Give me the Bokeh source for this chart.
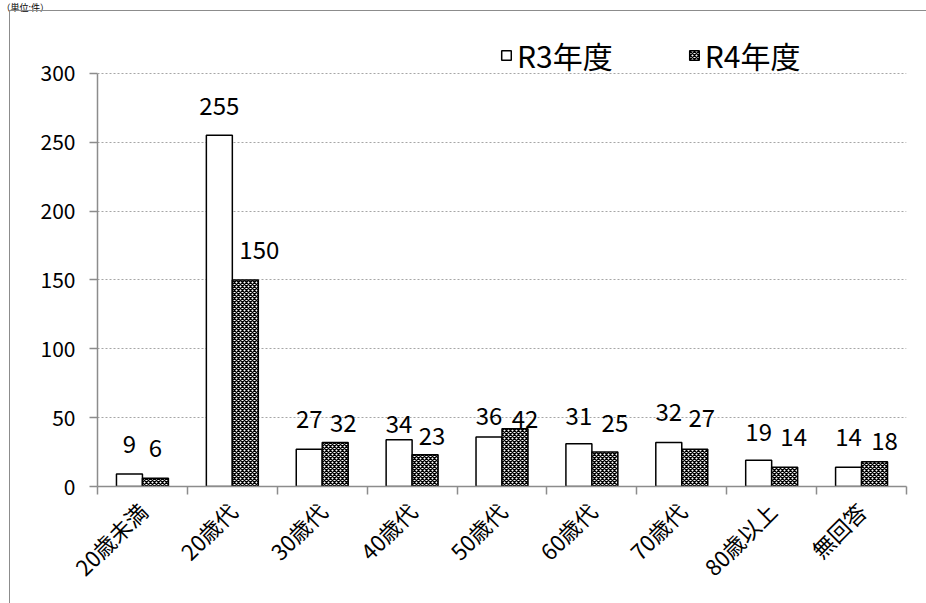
import math
from bokeh.plotting import figure
from bokeh.models import (ColumnDataSource, FixedTicker, Range1d, Legend, LegendItem,
                          InlineStyleSheet)
from bokeh.core.properties import value
from bokeh.embed import file_html
from bokeh.resources import INLINE

# Number of cases by age group, two fiscal years
categories = ["20歳未満", "20歳代", "30歳代", "40歳代", "50歳代", "60歳代", "70歳代", "80歳以上", "無回答"]
r3_values = [9, 255, 27, 34, 36, 31, 32, 19, 14]
r4_values = [6, 150, 32, 23, 42, 25, 27, 14, 18]
series_names = ["R3年度", "R4年度"]
y_ticks = [0, 50, 100, 150, 200, 250, 300]
unit_note = "（単位:件）"

# label nudges in screen pixels (dx right, dy up from bar top)
r3_label_dy = [30, 29, 30, 16, 21, 28, 30, 28, 30]
r4_label_dx = [0, 14, 8, 7, 10, 10, 7, 9, 10]
r4_label_dy = [30, 30, 19, 19, 10, 29, 31, 30, 21]

FONT = "Noto Sans CJK JP"
AXIS_GRAY = "#8c8c8c"
BAR_W = 0.289

n = len(categories)
centers = [i + 0.5 for i in range(n)]

src_r3 = ColumnDataSource(dict(
    x=[c - BAR_W / 2 for c in centers], top=r3_values,
    txt=[str(v) for v in r3_values],
    dx=[0] * n, dy=[-d for d in r3_label_dy],
))
src_r4 = ColumnDataSource(dict(
    x=[c + BAR_W / 2 for c in centers], top=r4_values,
    txt=[str(v) for v in r4_values],
    dx=r4_label_dx, dy=[-d for d in r4_label_dy],
))

# the title panel is one measured line box of the note's font (about 1.68 em)
NOTE_SIZE = 9
NOTE_STANDOFF = 0
scale = 413 / 300.0  # px per unit
frame_left, frame_bottom = 97, 486
frame_top = NOTE_SIZE * 1.68 + NOTE_STANDOFF

p = figure(width=926, height=603, output_backend="svg", toolbar_location=None,
           x_range=Range1d(0, n), y_range=Range1d(0, (frame_bottom - frame_top) / scale),
           min_border_left=frame_left, min_border_right=20, min_border_top=0,
           min_border_bottom=603 - frame_bottom)
p.outline_line_color = None
p.background_fill_color = "white"
p.border_fill_color = "white"

# unit note in the top-left corner of the canvas
p.title.text = unit_note
p.title.align = "left"
p.title.vertical_align = "top"
p.title.offset = -frame_left + 1
p.title.standoff = NOTE_STANDOFF
p.title.text_font = FONT
p.title.text_font_size = f"{NOTE_SIZE}px"
p.title.text_font_style = "normal"
p.title.text_color = "black"

r3 = p.vbar(x="x", top="top", width=BAR_W, source=src_r3, fill_color="white",
            line_color="black", line_width=1.5)
r4 = p.vbar(x="x", top="top", width=BAR_W, source=src_r4, fill_color="white",
            line_color="black", line_width=1.5, hatch_pattern="diagonal_cross",
            hatch_color="black", hatch_scale=4, hatch_weight=1.4)

for src in (src_r3, src_r4):
    p.text(x="x", y="top", text="txt", source=src, x_offset="dx", y_offset="dy",
           text_align="center", text_baseline="middle", text_font=value(FONT),
           text_font_size="24px", text_color="black")

# y axis
p.yaxis.ticker = FixedTicker(ticks=y_ticks)
p.yaxis.bounds = (0, 300)
p.yaxis.axis_line_color = AXIS_GRAY
p.yaxis.axis_line_width = 1.5
p.yaxis.major_tick_line_color = AXIS_GRAY
p.yaxis.major_tick_line_width = 1.5
p.yaxis.major_tick_out = 8
p.yaxis.major_tick_in = 0
p.yaxis.minor_tick_line_color = None
p.yaxis.major_label_text_font = FONT
p.yaxis.major_label_text_font_size = "21px"
p.yaxis.major_label_text_color = "black"
p.yaxis.major_label_standoff = 14

# x axis: category names at centers, tick marks at boundaries
p.xaxis.ticker = FixedTicker(ticks=centers, minor_ticks=list(range(n + 1)))
p.xaxis.major_label_overrides = {c: name for c, name in zip(centers, categories)}
p.xaxis.axis_line_color = AXIS_GRAY
p.xaxis.axis_line_width = 1.5
p.xaxis.major_tick_line_color = None
p.xaxis.minor_tick_line_color = AXIS_GRAY
p.xaxis.minor_tick_line_width = 1.5
p.xaxis.minor_tick_out = 8
p.xaxis.minor_tick_in = 0
p.xaxis.major_label_orientation = math.pi / 4
p.xaxis.major_label_text_font = FONT
p.xaxis.major_label_text_font_size = "22px"
p.xaxis.major_label_text_color = "black"
p.xaxis.major_label_standoff = 12

p.xgrid.grid_line_color = None
p.ygrid.ticker = FixedTicker(ticks=y_ticks[1:])
p.ygrid.grid_line_color = "#a6a6a6"
p.ygrid.grid_line_dash = "2 2"
p.ygrid.grid_line_width = 1

legend = Legend(items=[LegendItem(label=series_names[0], renderers=[r3]),
                       LegendItem(label=series_names[1], renderers=[r4])],
                orientation="horizontal", location=(403, 409),
                border_line_color=None, background_fill_alpha=0,
                padding=0, margin=0, spacing=75, label_standoff=5,
                glyph_width=12, glyph_height=12,
                label_text_font=FONT, label_text_font_size="30px",
                label_text_color="black")
p.add_layout(legend)

# thin gray border framing the chart area
p.stylesheets = [InlineStyleSheet(css="""
:host { position: relative; }
:host::after {
  content: ""; position: absolute; left: 9px; top: 10px; width: 917px; height: 593px;
  border-left: 1.5px solid #8c8c8c; border-top: 1.5px solid #8c8c8c;
  box-sizing: border-box; pointer-events: none;
}
""")]

open("out.html", "w").write(file_html(p, INLINE))
